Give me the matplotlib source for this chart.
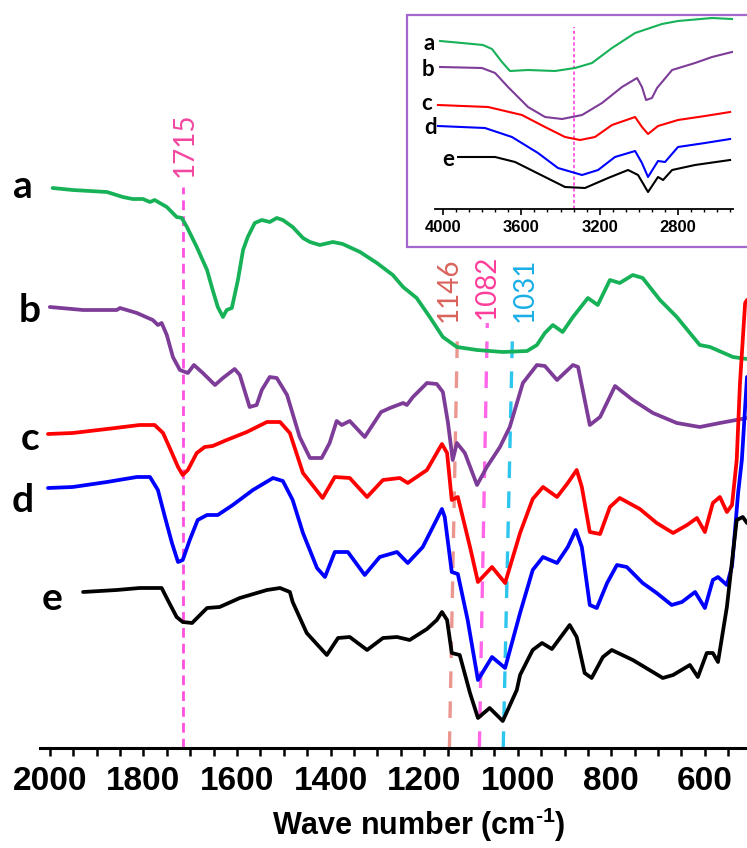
import matplotlib
matplotlib.use('Agg')
import matplotlib.pyplot as plt
from matplotlib.ticker import MultipleLocator, AutoMinorLocator
from matplotlib.patches import Rectangle

plt.rcParams['mathtext.fontset'] = 'custom'
plt.rcParams['mathtext.rm'] = 'Liberation Sans:bold'
plt.rcParams['mathtext.bf'] = 'Liberation Sans:bold'

# ---------------- main spectra (wavenumber, offset transmittance) ----------------
a_wn = [1994,1951,1878,1844,1823,1801,1786,1776,1750,1729,1718,1707,1686,1664,1652,1641,1630,1622,1611,1598,
        1587,1577,1562,1547,1530,1515,1502,1481,1459,1444,1423,1395,1374,1337,1301,1267,1245,1216,1188,1160,
        1130,1087,1032,980,959,942,925,904,882,850,829,803,782,754,733,696,660,611,589,540,510]
a_t = [560,558,556,551,549,549,546,548,541,531,530,521,501,478,458,441,431,438,440,468,
       498,511,525,528,526,530,528,521,510,506,503,506,504,496,485,473,461,450,431,411,
       401,398,396,397,403,415,423,416,431,450,443,468,465,473,470,448,431,403,401,391,389]

b_wn = [2000,1929,1857,1850,1814,1780,1769,1761,1750,1737,1722,1705,1692,1673,1647,1630,1605,1594,1573,1558,
        1547,1530,1515,1493,1466,1444,1419,1402,1387,1376,1359,1327,1292,1273,1245,1237,1224,1194,1173,1160,
        1149,1139,1130,1113,1087,1066,1038,1017,989,959,942,916,882,871,846,824,792,754,711,660,611,568,510]
b_t = [441,438,438,440,435,428,423,425,413,391,378,375,383,375,363,370,379,373,341,343,
       358,371,370,353,311,290,290,305,327,323,327,311,336,340,345,343,351,365,364,356,
       325,288,305,295,263,281,301,321,365,383,382,368,383,381,323,331,362,348,335,325,321,325,330]

c_wn = [2004,1951,1878,1808,1776,1758,1739,1726,1716,1705,1686,1669,1652,1622,1579,1536,1508,1487,1459,1417,
        1391,1359,1322,1288,1252,1235,1194,1162,1151,1141,1128,1102,1085,1055,1027,995,968,946,916,893,
        874,863,846,824,803,782,739,703,668,638,617,600,583,568,553,542,532,525,514,510]
c_t = [314,315,319,323,323,315,295,281,273,278,295,301,302,308,316,326,326,315,275,250,
       271,270,251,268,270,265,278,304,295,248,251,201,166,181,165,215,249,261,251,265,
       278,261,216,214,241,250,239,225,215,223,230,216,245,251,236,243,288,365,445,448]

d_wn = [2004,1951,1878,1814,1786,1769,1754,1739,1726,1716,1701,1684,1664,1641,1609,1566,1523,1502,1481,1459,
        1429,1412,1391,1363,1327,1295,1258,1235,1203,1177,1162,1156,1141,1128,1107,1085,1055,1027,995,968,
        946,916,893,876,863,846,831,809,788,767,733,703,671,649,621,600,583,572,553,542,529,521,510]
d_t = [260,261,266,271,271,258,231,205,186,188,208,228,233,233,243,258,270,267,248,215,
       180,171,196,196,173,191,196,185,201,225,239,231,176,174,128,68,91,80,135,178,
       191,185,201,218,201,143,140,165,183,181,165,155,143,146,156,140,168,171,163,182,255,288,371]

e_wn = [1929,1857,1808,1761,1748,1729,1716,1696,1679,1664,1637,1594,1536,1508,1487,1481,1451,1408,1384,1359,
        1322,1288,1258,1231,1194,1173,1162,1151,1141,1124,1102,1085,1060,1032,1002,995,968,948,927,889,
        874,857,842,818,799,754,690,668,632,615,596,583,572,553,532,519,510]
e_t = [156,158,160,160,148,131,126,125,133,140,141,150,158,160,156,146,115,93,110,111,
       98,110,111,108,119,128,136,128,95,93,55,30,40,27,58,73,98,105,99,123,
       111,75,70,91,98,88,70,73,83,71,95,95,86,141,228,231,225]

series_names = ['a', 'b', 'c', 'd', 'e']
series_colors = ['#17B158', '#7D3C98', '#FF0000', '#0000FF', '#000000']
main_wn = [a_wn, b_wn, c_wn, d_wn, e_wn]
main_t = [a_t, b_t, c_t, d_t, e_t]

# marker bands
band_wn = [1715, 1146, 1082, 1031]
band_labels = ['1715', '1146', '1082', '1031']
band_label_colors = ['#F2479F', '#D9625C', '#FF3D9A', '#1AAFE6']
band_line_colors = ['#FF4FDF', '#EC9690', '#FF66E8', '#2CC6EF']

main_ticks = [2000, 1800, 1600, 1400, 1200, 1000, 800, 600]

# ---------------- inset spectra (high wavenumber region) ----------------
ia_wn = [4015,3903,3796,3750,3699,3658,3566,3428,3326,3239,3137,3019,2882,2800,2626,2524]
ia_t = [168,166,164,160,147,138,139,138,141,146,161,176,185,188,191,190]
ib_wn = [4015,3801,3734,3668,3566,3479,3392,3290,3188,3086,3009,2984,2963,2933,2907,2830,2713,2626,2524]
ib_t = [142,141,136,122,102,92,90,94,106,122,131,122,109,111,121,139,146,152,157]
ic_wn = [4026,3770,3597,3479,3377,3300,3224,3137,3019,2984,2953,2902,2800,2662,2534]
ic_t = [104,102,94,82,72,69,72,84,92,82,75,83,89,93,97]
id_wn = [4026,3786,3648,3515,3413,3290,3208,3122,3019,2984,2953,2902,2866,2800,2662,2534]
id_t = [83,81,72,56,41,34,39,52,58,46,32,48,47,62,66,70]
ie_wn = [3923,3734,3632,3479,3377,3275,3157,3055,3004,2953,2902,2876,2830,2713,2534]
ie_t = [52,52,47,32,22,21,31,39,34,17,32,29,39,44,49]
inset_wn = [ia_wn, ib_wn, ic_wn, id_wn, ie_wn]
inset_t = [ia_t, ib_t, ic_t, id_t, ie_t]
inset_band = 3330
inset_ticks = [4000, 3600, 3200, 2800]

# ---------------- figure ----------------
W, H = 747, 848
fig = plt.figure(figsize=(W / 100, H / 100), dpi=100)

def fx(px):
    return px / W

def fy(py):
    return 1 - py / H

ax = fig.add_axes([fx(40), fy(748), fx(747) - fx(40), fy(100) - fy(748)])
ax.set_xlim(2021, 510)
ax.set_ylim(0, 648)
for s in ['top', 'right', 'left']:
    ax.spines[s].set_visible(False)
ax.spines['bottom'].set_linewidth(2.2)
ax.set_yticks([])
ax.xaxis.set_minor_locator(MultipleLocator(50))
ax.tick_params(axis='x', which='both', direction='out', length=6, width=1.8, pad=7)
ax.set_xticks(main_ticks)
ax.set_xticklabels([str(t) for t in main_ticks],
                   fontfamily=['Liberation Sans Narrow', 'Liberation Sans'],
                   fontweight='bold', fontsize=24)

for wn, t, col in zip(main_wn, main_t, series_colors):
    ax.plot(wn, t, color=col, lw=2.7, solid_joinstyle='round', solid_capstyle='round', zorder=3)

# band lines
band_tops = [561, 413, 425, 420]
band_slant = [0, -17, -17, -20]
band_label_pos = [(1711, 603), (1147, 458), (1066, 461), (985, 458)]
band_dash = [(3.5, 2.2), (5, 4), (5, 4), (5, 4)]
band_lw = [2.0, 2.4, 2.4, 2.4]
for wn, top, sl, col, dsh, lw in zip(band_wn, band_tops, band_slant, band_line_colors, band_dash, band_lw):
    ax.plot([wn, wn + sl], [0, top], color=col, lw=lw, ls=(0, dsh), zorder=2)
for lab, (lx, ly), col in zip(band_labels, band_label_pos, band_label_colors):
    ax.text(lx, ly, lab, rotation=90, ha='center', va='center', color=col,
            fontsize=20, fontfamily='Lato', clip_on=False)

# series letters
letter_pos = [(2058, 561), (2043, 437), (2043, 309), (2058, 248), (1996, 150)]
for name, (lx, ly) in zip(series_names, letter_pos):
    ax.text(lx, ly, name, ha='center', va='center', fontsize=28, fontweight='bold',
            fontfamily='Lato', color='black', clip_on=False)

fig.text(fx(419), fy(825), r'Wave number (cm$^{\text{-1}}$)', ha='center', va='center',
         fontsize=22, fontweight='bold', fontfamily='Liberation Sans')

# ---------------- inset ----------------
fig.patches.append(Rectangle((fx(407), fy(247)), fx(752) - fx(407), fy(15) - fy(247),
                             transform=fig.transFigure, facecolor='white',
                             edgecolor='#A468CC', lw=1.6, zorder=5))
iax = fig.add_axes([fx(435), fy(209), fx(733) - fx(435), fy(15) - fy(209)], zorder=6)
iax.patch.set_alpha(0)
iax.set_xlim(4041, 2519)
iax.set_ylim(0, 194)
for s in ['top', 'right', 'left']:
    iax.spines[s].set_visible(False)
iax.spines['bottom'].set_linewidth(1.3)
iax.set_yticks([])
iax.set_xticks(inset_ticks)
iax.xaxis.set_minor_locator(AutoMinorLocator(6))
iax.tick_params(axis='x', which='major', direction='out', length=4, width=1.2, pad=4)
iax.tick_params(axis='x', which='minor', direction='out', length=2.5, width=1.0)
iax.set_xticklabels([str(t) for t in inset_ticks], fontsize=12, fontweight='bold',
                    fontfamily='Liberation Sans')
for wn, t, col in zip(inset_wn, inset_t, series_colors):
    iax.plot(wn, t, color=col, lw=1.5, solid_joinstyle='round', zorder=3)
iax.plot([inset_band, inset_band], [0, 182], color='#FF44DD', lw=1.2, ls=(0, (2, 1.5)), zorder=2)
inset_letter_pos = [(4072, 166), (4077, 139), (4082, 106), (4066, 82), (3974, 49)]
for name, (lx, ly) in zip(series_names, inset_letter_pos):
    iax.text(lx, ly, name, ha='center', va='center', fontsize=16, fontweight='bold',
             fontfamily='Lato', clip_on=False)

fig.savefig('out.png', dpi=100)
